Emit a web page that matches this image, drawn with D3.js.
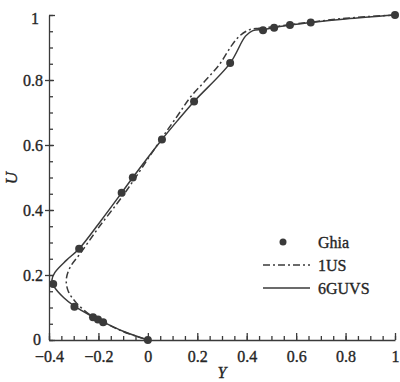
<!DOCTYPE html>
<html>
<head>
<meta charset="utf-8">
<script src="https://cdn.jsdelivr.net/npm/d3@7"></script>
<style>
  body { margin: 0; background: #fff; }
  svg text { font-family: "Liberation Serif", "DejaVu Serif", serif; fill: #262626; stroke: #262626; stroke-width: 0.35px; }
</style>
</head>
<body>
<div id="chart"></div>
<script>
// Ghia benchmark points (velocity Y, position U)
var ghiaY = [1, 0.659, 0.575, 0.511, 0.466, 0.333, 0.187, 0.057, -0.061, -0.106, -0.278, -0.383, -0.297, -0.222, -0.202, -0.181, 0];
var ghiaU = [1, 0.977, 0.969, 0.961, 0.953, 0.852, 0.734, 0.617, 0.5, 0.453, 0.281, 0.172, 0.102, 0.070, 0.063, 0.055, 0];

// 1US, dash-dot
var usY = [1, 0.80, 0.66, 0.57, 0.50, 0.45, 0.412, 0.372, 0.338, 0.29, 0.23, 0.17, 0.12, 0.06, -0.05, -0.10, -0.20, -0.27, -0.315, -0.33, -0.322, -0.29, -0.23, -0.18, -0.10, 0];
var usU = [1, 0.99, 0.978, 0.970, 0.963, 0.959, 0.955, 0.936, 0.905, 0.848, 0.796, 0.745, 0.69, 0.625, 0.5, 0.445, 0.345, 0.27, 0.223, 0.186, 0.150, 0.115, 0.075, 0.055, 0.026, 0];

// 6GUVS, solid
var guY = [1, 0.80, 0.66, 0.575, 0.51, 0.466, 0.425, 0.395, 0.333, 0.187, 0.12, 0.057, -0.061, -0.106, -0.19, -0.278, -0.33, -0.376, -0.388, -0.38, -0.34, -0.297, -0.222, -0.18, -0.10, 0];
var guU = [1, 0.988, 0.977, 0.969, 0.961, 0.955, 0.952, 0.935, 0.852, 0.734, 0.675, 0.617, 0.5, 0.453, 0.367, 0.281, 0.245, 0.208, 0.185, 0.165, 0.13, 0.104, 0.071, 0.055, 0.027, 0];

var xTicks = [-0.4, -0.2, 0, 0.2, 0.4, 0.6, 0.8, 1];
var yTicks = [0, 0.2, 0.4, 0.6, 0.8, 1];
var legendNames = ['Ghia', '1US', '6GUVS'];

var width = 400, height = 382;
var ink = '#3a3a3a';

var x = d3.scaleLinear().domain([-0.4, 1]).range([49, 395]);
var y = d3.scaleLinear().domain([0, 1]).range([340, 15]);

var svg = d3.select('#chart').append('svg')
  .attr('width', width)
  .attr('height', height);

var fmt = function (d) { return d === 0 || d === 1 ? String(d) : d3.format('.1f')(d); };

// minor ticks
svg.append('g')
  .attr('transform', 'translate(0,340)')
  .call(d3.axisBottom(x).tickValues(d3.range(-0.4, 1.001, 0.05)).tickSize(-4).tickFormat(''))
  .call(function (g) { g.select('.domain').remove(); });
svg.append('g')
  .attr('transform', 'translate(49,0)')
  .call(d3.axisLeft(y).tickValues(d3.range(0, 1.001, 0.05)).tickSize(-4).tickFormat(''))
  .call(function (g) { g.select('.domain').remove(); });

// x axis
var gx = svg.append('g')
  .attr('transform', 'translate(0,340)')
  .call(d3.axisBottom(x).tickValues(xTicks).tickSize(-7).tickSizeOuter(0).tickFormat(fmt).tickPadding(11));
gx.selectAll('text').attr('font-size', 16).attr('font-family', '"Liberation Serif", serif');

// y axis
var gy = svg.append('g')
  .attr('transform', 'translate(49,0)')
  .call(d3.axisLeft(y).tickValues(yTicks).tickSize(4).tickSizeOuter(0).tickFormat(fmt).tickPadding(2));
gy.selectAll('.tick line').attr('x2', -4).attr('x1', 5);
gy.selectAll('.tick').filter(function (d) { return d === 0 || d === 1; })
  .select('line').attr('x2', 0).attr('x1', 6);
gy.selectAll('.tick').filter(function (d) { return d === 1; })
  .select('text').attr('x', -10).attr('dy', '0.55em');
gy.selectAll('.tick').filter(function (d) { return d === 0; })
  .select('text').attr('x', -8).attr('dy', '0.3em');
gy.selectAll('text').attr('font-size', 16).attr('font-family', '"Liberation Serif", serif');

svg.selectAll('.domain, .tick line').attr('stroke', ink).attr('stroke-width', 1.3);

// axis titles
svg.append('text')
  .attr('transform', 'translate(17,178) rotate(-90)')
  .attr('text-anchor', 'middle')
  .attr('font-size', 17)
  .attr('font-style', 'italic')
  .text('U');
svg.append('text')
  .attr('x', 222).attr('y', 378)
  .attr('text-anchor', 'middle')
  .attr('font-size', 16)
  .attr('font-style', 'italic')
  .text('Y');

var line = d3.line()
  .x(function (d) { return x(d[0]); })
  .y(function (d) { return y(d[1]); })
  .curve(d3.curveCatmullRom.alpha(0.5));

svg.append('path')
  .datum(d3.zip(usY, usU))
  .attr('d', line)
  .attr('fill', 'none')
  .attr('stroke', ink)
  .attr('stroke-width', 1.5)
  .attr('stroke-dasharray', '7,3,2,3');

svg.append('path')
  .datum(d3.zip(guY, guU))
  .attr('d', line)
  .attr('fill', 'none')
  .attr('stroke', ink)
  .attr('stroke-width', 1.5);

svg.selectAll('circle.ghia')
  .data(d3.zip(ghiaY, ghiaU))
  .enter().append('circle')
  .attr('class', 'ghia')
  .attr('cx', function (d) { return x(d[0]); })
  .attr('cy', function (d) { return y(d[1]); })
  .attr('r', 4)
  .attr('fill', ink);

// legend
var legend = svg.append('g').attr('transform', 'translate(263,242)');
legend.append('circle').attr('cx', 20).attr('cy', 0).attr('r', 3.5).attr('fill', ink);
legend.append('line').attr('x1', 0).attr('x2', 47).attr('y1', 23).attr('y2', 23)
  .attr('stroke', ink).attr('stroke-width', 1.4).attr('stroke-dasharray', '7,3,2,3');
legend.append('line').attr('x1', 0).attr('x2', 47).attr('y1', 46).attr('y2', 46)
  .attr('stroke', ink).attr('stroke-width', 1.4);
legend.selectAll('text')
  .data(legendNames)
  .enter().append('text')
  .attr('x', 55)
  .attr('y', function (d, i) { return i * 23; })
  .attr('dy', '0.35em')
  .attr('font-size', 16)
  .text(function (d) { return d; });
</script>
</body>
</html>
